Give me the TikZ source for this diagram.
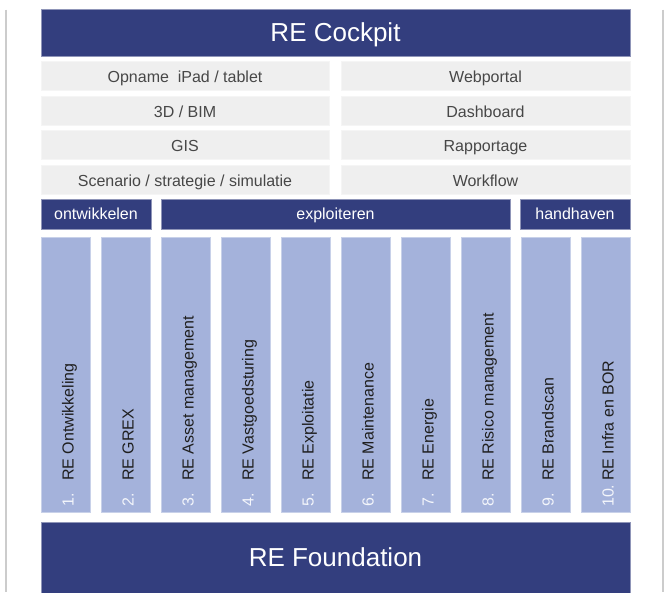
\documentclass[tikz,border=0pt]{standalone}
\usepackage{fontspec}
\setmainfont{Liberation Sans}
\definecolor{reNavy}{RGB}{51,62,126}
\definecolor{reColumn}{RGB}{164,178,219}
\definecolor{reGray}{RGB}{239,239,239}
\definecolor{reFrame}{RGB}{204,204,204}
\tikzset{
	bar/.style={fill=reNavy, draw=reNavy!55!white, line width=0.6pt, text=white, inner sep=0pt, minimum width=589pt, font=\fontsize{26}{30}\selectfont},
	toolbox/.style={fill=reGray, draw=white!96!black, line width=0.6pt, text=black!72, inner sep=0pt, minimum height=29pt, text height=14pt, text depth=1pt, font=\fontsize{16}{19}\selectfont},
	phasebox/.style={fill=reNavy, draw=reNavy!55!white, line width=0.6pt, text=white, inner sep=0pt, minimum height=30pt, text height=13pt, text depth=3pt, font=\fontsize{16}{19}\selectfont},
	modulebox/.style={fill=reColumn, draw=reColumn!60!white, line width=0.6pt, inner sep=0pt, minimum width=49.5pt, minimum height=275pt},
	modlabel/.style={rotate=90, anchor=base west, inner sep=0pt, text=black!88, font=\fontsize{16}{19}\selectfont},
	modnum/.style={modlabel, text=white!88!reColumn}
}
\begin{document}
\begin{tikzpicture}[x=1pt,y=1pt,yscale=-1]
		\useasboundingbox (0,0) rectangle (666,592);
		\draw [reFrame, line width=2pt] (5.7,9.5) -- (5.7,592);
		\draw [reFrame, line width=2.4pt] (662.7,9.5) -- (662.7,592);
		\node [bar, minimum height=47pt, text height=19pt, text depth=2pt] (cockpit) at (335.5,32.5) {RE Cockpit};
		\node [toolbox, minimum width=288pt] (ipad) at (185,75.5) {Opname\ \ iPad / tablet};
		\node [toolbox, minimum width=288pt] (bim) at (185,110.5) {3D / BIM};
		\node [toolbox, minimum width=288pt] (gis) at (185,145) {GIS};
		\node [toolbox, minimum width=288pt] (scenario) at (185,180) {Scenario / strategie / simulatie};
		\node [toolbox, minimum width=289pt] (webportal) at (485.5,75.5) {Webportal};
		\node [toolbox, minimum width=289pt] (dashboard) at (485.5,110.5) {Dashboard};
		\node [toolbox, minimum width=289pt] (rapportage) at (485.5,145) {Rapportage};
		\node [toolbox, minimum width=289pt] (workflow) at (485.5,180) {Workflow};
		\node [phasebox, minimum width=110pt] (ontwikkelen) at (96,214) {ontwikkelen};
		\node [phasebox, minimum width=349pt] (exploiteren) at (335.5,214) {exploiteren};
		\node [phasebox, minimum width=110pt] (handhaven) at (575,214) {handhaven};
		\foreach \i/\name in {1/Ontwikkeling, 2/GREX, 3/Asset management, 4/Vastgoedsturing, 5/Exploitatie, 6/Maintenance, 7/Energie, 8/Risico management, 9/Brandscan, 10/Infra en BOR} {
			\node [modulebox] (mod\i) at ({65.75+60*(\i-1)},374.5) {};
			\node [modnum] (num\i) at ({73.5+60*(\i-1)},507) {\i.};
			\node [modlabel] (lab\i) at ({73.5+60*(\i-1)},481) {RE \name};
		}
		\node [bar, minimum height=71pt, text height=19pt, text depth=2pt] (foundation) at (335.5,557.5) {RE Foundation};
\end{tikzpicture}
\end{document}
